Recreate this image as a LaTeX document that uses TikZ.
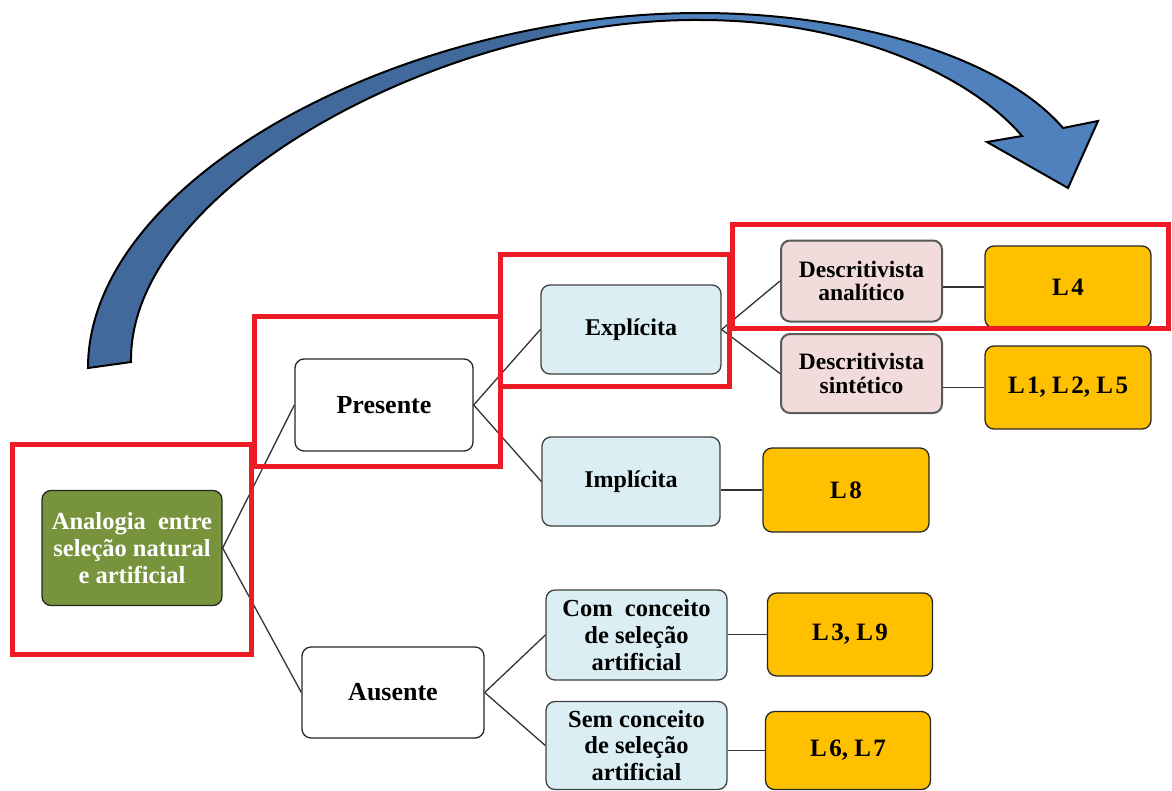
\documentclass[tikz,border=0pt]{standalone}
\usepackage{fontspec}
\setmainfont{Liberation Serif}
\usetikzlibrary{calc}
\definecolor{grn}{HTML}{77933C}
\definecolor{lblue}{HTML}{DAEEF3}
\definecolor{pink}{HTML}{F2DCDB}
\definecolor{gold}{HTML}{FFC000}
\definecolor{redline}{HTML}{ED1C24}
\definecolor{arrdark}{HTML}{41699B}
\definecolor{arrlight}{HTML}{4F81BD}
\newcommand\Lk{L\kern2.5pt}
\newcommand\arrowshape{(88,368) .. controls (88,180) and (400,13) .. (700,13)
  .. controls (850,13) and (1000,55) .. (1063,128) -- (1098,121) -- (1068,188) -- (987,142) -- (1022,136)
  .. controls (970,75) and (850,20) .. (700,20) .. controls (440,18) and (128,190) .. (131,362) -- cycle}
\begin{document}
\begin{tikzpicture}[x=1pt,y=-1pt,
  box/.style={draw=black!85, line width=1.3pt, rounded corners=9pt, align=center, inner sep=2pt,
    font=\fontsize{24}{27}\selectfont\bfseries},
  white/.style={box, fill=white, font=\fontsize{26}{28}\selectfont\bfseries},
  blu/.style={box, fill=lblue, draw=black!75},
  blu3/.style={blu, font=\fontsize{24.5}{26.7}\selectfont\bfseries},
  pnk/.style={box, fill=pink, draw=black!65, line width=2pt, font=\fontsize{23.5}{23.5}\selectfont\bfseries},
  gld/.style={box, fill=gold, font=\fontsize{25}{27}\selectfont\bfseries},
  conn/.style={draw=black!80, line width=1.3pt},
  redbox/.style={draw=redline, line width=5pt},
  arr/.style={draw=black, line width=2pt, line join=miter}]
\useasboundingbox (0,0) rectangle (1172,790);

% curved arrow: light right half, dark left half, black outline
\fill[arrlight] \arrowshape;
\begin{scope}
  \clip (0,0) rectangle (560,400);
  \fill[arrdark] \arrowshape;
\end{scope}
\draw[arr] \arrowshape;

% nodes
\node[box, fill=grn, text=white, minimum width=180pt, minimum height=115pt, font=\fontsize{24.5}{27}\selectfont\bfseries]
  (ana) at (132,548) {Analogia\ \ entre\\seleção natural\\e artificial};
\node[white, minimum width=178pt, minimum height=92pt] (pres) at (384,405) {Presente};
\node[white, minimum width=182pt, minimum height=91pt] (aus) at (393,692.5) {Ausente};
\node[blu, minimum width=180pt, minimum height=89pt] (expl) at (631,329.5) {Explícita};
\node[blu, minimum width=178pt, minimum height=89pt] (impl) at (631,481.5) {Implícita};
\node[blu3, minimum width=181pt, minimum height=90pt] (com) at (636.5,635) {Com\ \ conceito\\de seleção\\artificial};
\node[blu3, minimum width=181pt, minimum height=88pt] (sem) at (636.5,745.5) {Sem conceito\\de seleção\\artificial};
\node[pnk, minimum width=161pt, minimum height=81pt] (da) at (861.5,281) {Descritivista\\analítico};
\node[pnk, minimum width=161pt, minimum height=79pt] (ds) at (861.5,373.5) {Descritivista\\sintético};
\node[gld, minimum width=166pt, minimum height=82pt] (l4) at (1068,287) {\Lk 4};
\node[gld, minimum width=166pt, minimum height=83pt] (l125) at (1068,387.5) {\Lk 1, \Lk 2, \Lk 5};
\node[gld, minimum width=166pt, minimum height=84pt] (l8) at (846,490) {\Lk 8};
\node[gld, minimum width=165pt, minimum height=83pt] (l39) at (850,634.5) {\Lk 3, \Lk 9};
\node[gld, minimum width=165pt, minimum height=78pt] (l67) at (848,750.5) {\Lk 6, \Lk 7};

% connectors
\draw[conn] (ana.east) -- (pres.west);
\draw[conn] (ana.east) -- (aus.west);
\draw[conn] (pres.east) -- (expl.west);
\draw[conn] (pres.east) -- (impl.west);
\draw[conn] (aus.east) -- (com.west);
\draw[conn] (aus.east) -- (sem.west);
\draw[conn] (expl.east) -- (da.west);
\draw[conn] (expl.east) -- (ds.west);
\draw[conn] (da.east |- l4.west) -- (l4.west);
\draw[conn] (ds.east |- l125.west) -- (l125.west);
\draw[conn] (impl.east |- l8.west) -- (l8.west);
\draw[conn] (com.east |- l39.west) -- (l39.west);
\draw[conn] (sem.east |- l67.west) -- (l67.west);

% red highlight frames
\draw[redbox] (12,444) rectangle (251,654);
\draw[redbox] (254,316) rectangle (500,466);
\draw[redbox] (500,254) rectangle (729,386);
\draw[redbox] (732,224) rectangle (1168,328);
\end{tikzpicture}
\end{document}
